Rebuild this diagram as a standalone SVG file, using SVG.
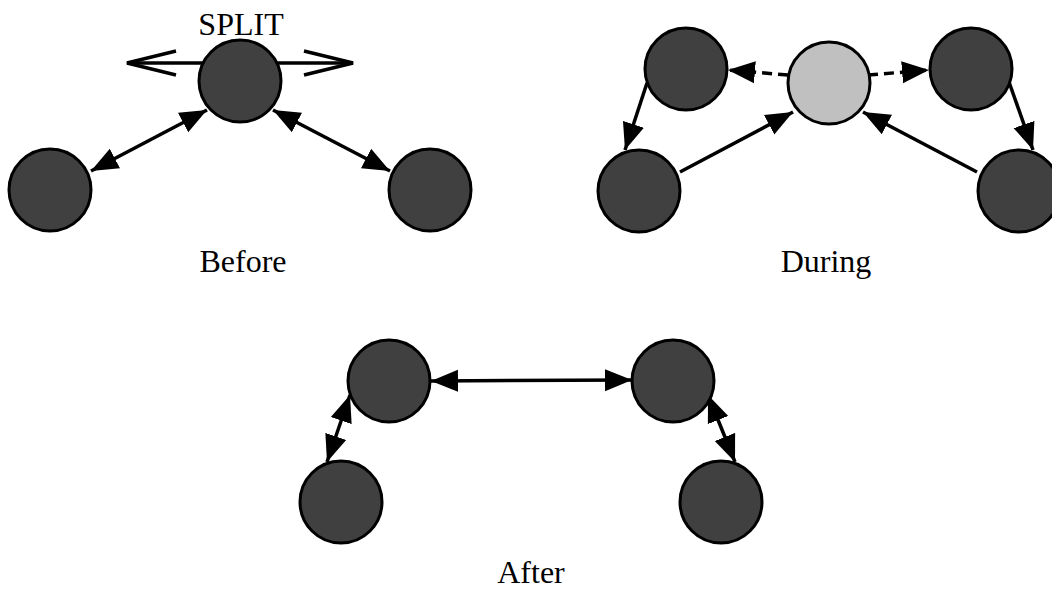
<svg xmlns="http://www.w3.org/2000/svg" width="1052" height="590" viewBox="0 0 1052 590">
<style>
.n{fill:#404040;stroke:#000;stroke-width:3}
.g{fill:#c0c0c0;stroke:#000;stroke-width:3}
.c{fill:none;stroke:#000;stroke-width:3.5}
.d{stroke-dasharray:10,6}
.bi{marker-start:url(#tri);marker-end:url(#tri)}
.one{marker-end:url(#tri)}
.t{font-family:"Liberation Serif","Times New Roman",serif;font-size:32px;text-anchor:middle;fill:#000}
</style>
<defs>
<marker id="tri" markerUnits="userSpaceOnUse" markerWidth="28" markerHeight="24" refX="27" refY="12" orient="auto-start-reverse" viewBox="0 0 28 24">
<path d="M0,1 L27,12 L0,23 z" fill="#000"/>
</marker>
<marker id="open" markerUnits="userSpaceOnUse" markerWidth="54" markerHeight="30" refX="51" refY="15" orient="auto-start-reverse" viewBox="0 0 54 30">
<path d="M2,3 L51,15 L2,27" fill="none" stroke="#000" stroke-width="3.5"/>
</marker>
</defs>
<g id="connectors">
<path class="c" d="M127,63 H353" marker-start="url(#open)" marker-end="url(#open)"/>
<path class="c bi" d="M91,171 L207,110"/>
<path class="c bi" d="M273,110 L390,171"/>
<path class="c d one" d="M788,75 L728,70"/>
<path class="c d one" d="M868,75 L929,70"/>
<path class="c one" d="M647,83 L625,150"/>
<path class="c one" d="M680,172 L793,112"/>
<path class="c one" d="M977,172 L863,112"/>
<path class="c one" d="M1009,82 L1033,150"/>
<path class="c bi" d="M431,381 L632,380"/>
<path class="c bi" d="M350,395 L327,462"/>
<path class="c bi" d="M708,395 L735,462"/>
</g>
<g id="before-top"><circle class="n" cx="240" cy="81" r="41"/></g>
<g id="before-left"><circle class="n" cx="50" cy="190" r="41"/></g>
<g id="before-right"><circle class="n" cx="430" cy="190" r="41"/></g>
<g id="during-center"><circle class="g" cx="829" cy="83" r="41"/></g>
<g id="during-upper-left"><circle class="n" cx="686" cy="69" r="41"/></g>
<g id="during-upper-right"><circle class="n" cx="971" cy="69" r="41"/></g>
<g id="during-lower-left"><circle class="n" cx="639" cy="191" r="41"/></g>
<g id="during-lower-right"><circle class="n" cx="1019" cy="191" r="41"/></g>
<g id="after-upper-left"><circle class="n" cx="389" cy="381" r="41"/></g>
<g id="after-upper-right"><circle class="n" cx="673" cy="381" r="41"/></g>
<g id="after-lower-left"><circle class="n" cx="341" cy="502" r="41"/></g>
<g id="after-lower-right"><circle class="n" cx="721" cy="502" r="41"/></g>
<g id="labels">
<text class="t" x="241" y="35">SPLIT</text>
<text class="t" x="243" y="272">Before</text>
<text class="t" x="826" y="272">During</text>
<text class="t" x="531" y="583">After</text>
</g>
</svg>
